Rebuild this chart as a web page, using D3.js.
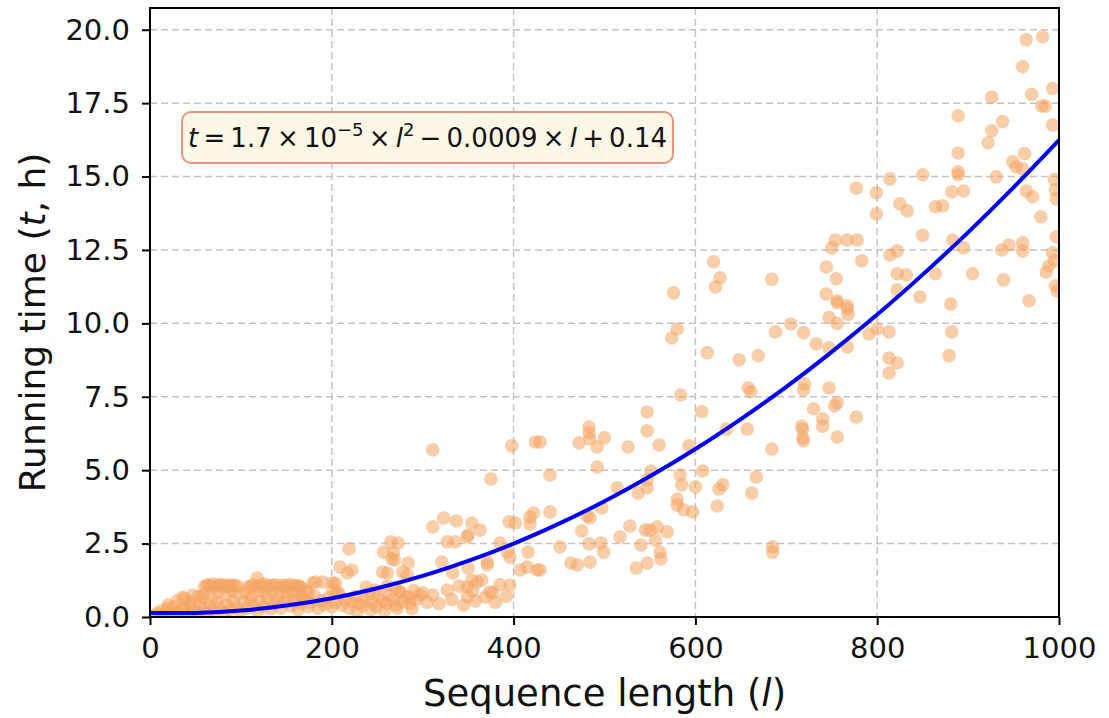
<!DOCTYPE html>
<html lang="en">
<head>
<meta charset="UTF-8">
<title>Running time vs sequence length</title>
<style>
  body { margin: 0; background: #ffffff; }
  text { font-family: "DejaVu Sans", sans-serif; }
</style>
<script src="https://cdn.jsdelivr.net/npm/d3@7"></script>
</head>
<body>
<script>
// ---- data ----
// short sequences [length, hours]
const pointsShort = [
  [4,0.05],[8,0.12],[12,0.2],[15,0.08],[19,0.28],[22,0.15],[26,0.35],[29,0.1],[33,0.22],[37,0.3],
  [41,0.14],[44,0.4],[48,0.25],[52,0.18],[55,0.45],[59,0.3],[63,0.12],[66,0.38],[70,0.22],[73,0.5],
  [77,0.3],[81,0.15],[84,0.42],[88,0.26],[92,0.55],[95,0.35],[99,0.2],[103,0.48],[107,0.3],[110,0.6],
  [114,0.4],[118,0.22],[121,0.52],[125,0.35],[129,0.65],[133,0.28],[136,0.45],[140,0.58],[144,0.3],[148,0.5],
  [151,0.7],[155,0.38],[159,0.55],[163,0.25],[166,0.45],[170,0.62],[174,0.35],[177,0.5],[181,0.72],[185,0.3],
  [189,0.55],[192,0.42],[196,0.65],[200,0.35],[204,0.5],[208,0.78],[211,0.4],[215,0.6],[219,0.3],[222,0.52],
  [226,0.7],[230,0.45],[234,0.38],[237,0.62],[241,0.8],[245,0.5],[249,0.35],[252,0.68],[256,0.55],[260,0.45],
  [263,0.75],[267,0.6],[271,0.4],[275,0.85],[278,0.52],[282,0.68],[286,0.45],[290,0.9],[293,0.6],[297,0.75],
  [30,0.55],[38,0.62],[45,0.5],[53,0.7],[60,0.8],[68,0.65],[75,0.85],[83,0.72],[90,0.9],[97,0.78],
  [105,0.85],[112,0.7],[120,0.9],[127,0.8],[135,0.88],[142,0.75],[150,0.9],[157,0.82],[165,0.78],[172,0.92],
  [36,0.68],[47,0.75],[57,0.68],[20,0.41],[118,1.33],[108,1.02],[167,0.68],[174,0.82],[206,0.85],
  [179,1.16],[190,1.19],[201,1.16],[182,1.19],[204,1.16],[201,0.92],[165,1.02],
  // the two flat bands near one hour
  [60,1.04],[63,1.1],[66,1.06],[69,1.12],[72,1.03],[75,1.08],[78,1.11],[81,1.05],[84,1.09],[87,1.04],
  [90,1.1],[93,1.07],[96,1.05],
  [111,1.05],[114,1.1],[118,1.04],[122,1.09],[126,1.12],[130,1.05],[134,1.08],[138,1.1],[142,1.04],[146,1.09],
  [150,1.06],[154,1.11],[158,1.05],[162,1.08],[165,1.04],
  [209,1.7],[217,1.5],[222,1.6],[219,2.32],[257,2.21],[265,2.56],[268,2.18],[266,1.98],[273,2.52],[261,1.5],
  [283,1.43],[284,1.84],[286,0.68],[256,1.53],[269,1.94],[278,1.53],[261,1.05],[270,1.0],[275,0.85],
  [228,0.2],[243,0.25],[258,0.22],[272,0.3],[288,0.28],[238,1.02],[248,0.92]
];
// medium sequences
const pointsMid = [
  [311,5.69],[398,5.83],[424,5.96],[375,4.7],[311,3.07],[323,3.37],[337,3.27],[354,3.2],[363,2.96],[350,2.79],
  [349,2.73],[327,2.56],[336,2.56],[395,3.24],[402,3.2],[418,3.4],[422,3.54],[418,3.17],[321,1.87],[371,1.87],
  [371,1.77],[385,2.52],[393,2.21],[396,2.04],[416,2.21],[407,1.6],[415,1.7],[426,1.6],[333,1.5],[350,1.67],
  [354,1.26],[360,1.19],[365,1.26],[349,1.02],[396,1.09],[327,0.92],[300,0.82],[311,0.75],[374,0.85],[377,0.82],
  [369,0.68],[349,0.68],[429,5.96],[440,4.84],[440,3.58],[429,1.6],[451,2.39],[463,1.84],[470,1.77],[475,2.93],
  [481,3.44],[484,3.37],[483,2.49],[484,1.87],[496,2.52],[499,2.21],[497,3.71],[483,6.47],[483,6.27],[484,6.06],
  [500,6.1],[472,5.93],[492,5.79],[492,5.11],[514,4.4],[517,2.73],[526,5.79],[528,3.1],[535,1.67],[537,4.22],
  [540,2.45],[545,2.96],[547,6.98],[547,6.34],[547,4.67],[547,4.4],[547,1.84],[550,2.96],[551,4.97],[556,2.62],
  [558,3.07],[560,5.86],[561,2.21],[562,1.98],[569,2.9],[574,9.5],[576,11.04],[580,9.81],[580,4.02],[580,3.82],
  [583,4.84],[584,7.56],[585,4.5],[587,3.65],[593,5.83],[597,3.58],
  [305,0.5],[318,0.45],[332,0.6],[345,0.4],[358,0.55],[380,0.5],[392,0.7],[340,1.05],[355,0.9],[385,1.1]
];
// long sequences
const pointsLong = [
  [600,4.43],[607,7.0],[608,4.97],[613,9.0],[620,12.1],[622,11.24],[624,3.78],[626,4.36],[627,11.55],[630,4.5],
  [634,6.4],[648,8.76],[657,6.4],[658,7.8],[661,7.67],[662,4.22],[667,4.77],[669,8.9],[684,11.5],[684,5.72],
  [685,2.39],[685,2.21],[688,9.71],[705,9.98],[717,6.5],[718,6.4],[718,6.1],[719,6.0],[719,9.68],[719,7.73],
  [720,7.94],[730,7.09],[733,9.3],[740,6.75],[740,6.5],[744,11.92],[744,11.0],[747,10.2],[747,9.17],[747,7.8],
  [750,12.57],[753,7.19],[754,12.84],[755,11.52],[756,10.77],[756,10.7],[756,10.0],[756,7.3],[756,6.13],[767,12.84],
  [767,10.6],[767,10.5],[767,9.2],[768,10.3],[777,14.6],[777,6.81],[778,12.84],[783,12.13],[791,9.64],[799,14.45],
  [799,13.73],[800,9.81],[813,9.71],[813,8.82],[813,8.31],[814,14.92],[814,12.33],[822,12.47],[822,11.69],[822,11.14],
  [822,8.65],[825,14.07],[832,11.65],[833,13.83],[847,10.9],[850,15.06],[850,13.0],[864,13.97],[864,11.69],[872,14.0],
  [879,8.9],[881,10.66],[882,14.48],[882,9.71],[883,12.84],[889,17.07],[889,15.8],[889,15.16],[889,15.06],[895,14.51],
  [895,12.57],[905,11.69],[922,16.15],[926,17.7],[926,16.56],[931,14.99],[937,12.5],[938,16.87],[939,11.48],[945,12.67],
  [949,15.5],[953,15.33],[960,18.74],[960,15.26],[960,12.74],[960,12.47],[962,15.78],[964,19.66],[964,14.51],[967,10.77],
  [970,17.8],[971,14.31],[980,13.63],[981,17.4],[982,19.76],[985,17.4],[986,11.75],[989,11.96],[993,18.0],[993,16.76],
  [993,12.4],[995,14.9],[995,12.13],[996,14.55],[996,11.28],[997,14.24],[997,12.95],[998,11.1]
];
// fitted curve
const fitLength = [0, 50, 100, 150, 200, 250, 300, 350, 400, 450, 500, 550, 600, 650, 700, 750, 800, 850, 900, 950, 1000];
const fitTime = [0.14, 0.14, 0.22, 0.39, 0.64, 0.98, 1.40, 1.91, 2.50, 3.18, 3.94, 4.79, 5.72, 6.74, 7.84, 9.03, 10.30, 11.66, 13.10, 14.63, 16.24];

const xTicks = [0, 200, 400, 600, 800, 1000];
const yTicks = [0, 2.5, 5, 7.5, 10, 12.5, 15, 17.5, 20];

// ---- layout ----
const W = 1109, H = 718;
const margin = { top: 8, right: 50, bottom: 101, left: 150 };
const iw = W - margin.left - margin.right;
const ih = H - margin.top - margin.bottom;

const svg = d3.select("body").append("svg")
  .attr("width", W)
  .attr("height", H);

const x = d3.scaleLinear().domain([0, 1000]).range([0, iw]);
const y = d3.scaleLinear().domain([0, 20.74]).range([ih, 0]);

const g = svg.append("g")
  .attr("transform", `translate(${margin.left},${margin.top})`);

g.append("clipPath").attr("id", "plotClip")
  .append("rect").attr("width", iw).attr("height", ih);

// grid
g.append("g")
  .selectAll("line")
  .data(xTicks)
  .join("line")
  .attr("x1", d => x(d)).attr("x2", d => x(d))
  .attr("y1", 0).attr("y2", ih)
  .attr("stroke", "#c4c4c4").attr("stroke-width", 1.5)
  .attr("stroke-dasharray", "7,4");
g.append("g")
  .selectAll("line")
  .data(yTicks)
  .join("line")
  .attr("x1", 0).attr("x2", iw)
  .attr("y1", d => y(d)).attr("y2", d => y(d))
  .attr("stroke", "#c4c4c4").attr("stroke-width", 1.5)
  .attr("stroke-dasharray", "7,4");

// scatter
const allPoints = pointsShort.concat(pointsMid, pointsLong);
g.append("g")
  .attr("clip-path", "url(#plotClip)")
  .selectAll("circle")
  .data(allPoints)
  .join("circle")
  .attr("cx", d => x(d[0]))
  .attr("cy", d => y(d[1]))
  .attr("r", 6.8)
  .attr("fill", "#f4a460")
  .attr("fill-opacity", 0.55);

// fitted curve
const line = d3.line()
  .x((d, i) => x(fitLength[i]))
  .y(d => y(d))
  .curve(d3.curveCatmullRom);
g.append("path")
  .attr("clip-path", "url(#plotClip)")
  .datum(fitTime)
  .attr("d", line)
  .attr("fill", "none")
  .attr("stroke", "#0000ff")
  .attr("stroke-width", 4);

// axes
const xAxis = d3.axisBottom(x).tickValues(xTicks).tickFormat(d3.format("d"))
  .tickSize(8).tickPadding(12);
const yAxis = d3.axisLeft(y).tickValues(yTicks).tickFormat(d3.format(".1f"))
  .tickSize(8).tickPadding(12);

const gx = g.append("g").attr("transform", `translate(0,${ih})`).call(xAxis);
const gy = g.append("g").call(yAxis);
[gx, gy].forEach(a => {
  a.select(".domain").remove();
  a.selectAll(".tick line").attr("stroke", "#000").attr("stroke-width", 2);
  a.selectAll(".tick text")
    .attr("fill", "#111")
    .style("font-size", "29px")
    .style("font-family", "'DejaVu Sans', sans-serif");
});

// frame
g.append("rect")
  .attr("width", iw).attr("height", ih)
  .attr("fill", "none")
  .attr("stroke", "#000")
  .attr("stroke-width", 2);

// axis labels
const xl = svg.append("text")
  .attr("x", margin.left + iw / 2)
  .attr("y", 706)
  .attr("text-anchor", "middle")
  .style("font-size", "37px")
  .attr("fill", "#111");
xl.append("tspan").text("Sequence length (");
xl.append("tspan").attr("font-style", "italic").text("l");
xl.append("tspan").text(")");

const yl = svg.append("text")
  .attr("transform", `translate(45,${margin.top + ih / 2 + 10}) rotate(-90)`)
  .attr("text-anchor", "middle")
  .style("font-size", "36px")
  .attr("fill", "#111");
yl.append("tspan").text("Running time (");
yl.append("tspan").attr("font-style", "italic").text("t");
yl.append("tspan").text(", h)");

// equation box
const box = svg.append("g");
box.append("rect")
  .attr("x", 182).attr("y", 112)
  .attr("width", 491).attr("height", 51)
  .attr("rx", 9)
  .attr("fill", "#fdf7e6")
  .attr("stroke", "#ec9480")
  .attr("stroke-width", 2);

const sp = "\u2009";
const eq = box.append("text")
  .attr("x", 427.5).attr("y", 147)
  .attr("text-anchor", "middle")
  .style("font-size", "26px")
  .attr("fill", "#111");
eq.append("tspan").attr("font-style", "italic").text("t");
eq.append("tspan").text(`${sp}=${sp}1.7${sp}×${sp}10`);
eq.append("tspan").attr("dy", -11).style("font-size", "18px").text("−5");
eq.append("tspan").attr("dy", 11).text(`${sp}×${sp}`);
eq.append("tspan").attr("font-style", "italic").text("l");
eq.append("tspan").attr("dy", -11).style("font-size", "18px").text("2");
eq.append("tspan").attr("dy", 11).text(`${sp}−${sp}0.0009${sp}×${sp}`);
eq.append("tspan").attr("font-style", "italic").text("l");
eq.append("tspan").text(`${sp}+${sp}0.14`);
</script>
</body>
</html>
